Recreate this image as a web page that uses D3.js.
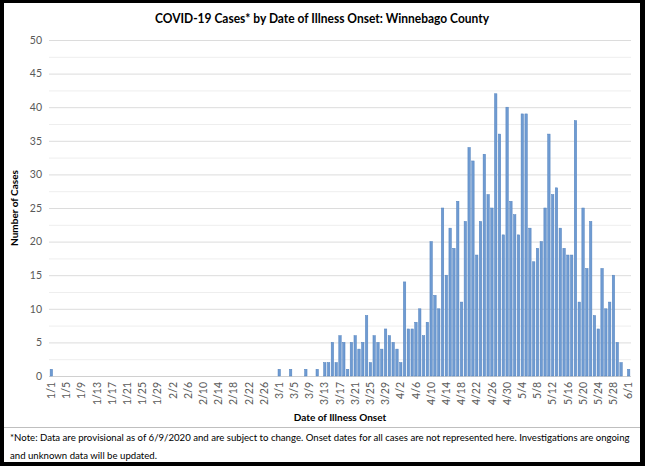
<!DOCTYPE html>
<html><head><meta charset="utf-8">
<script src="https://cdn.jsdelivr.net/npm/d3@7"></script>
<style>body{margin:0;background:#fff;} svg{display:block;font-family:Lato,"Open Sans",sans-serif;}</style>
</head><body><svg id="c" width="645" height="466"></svg>
<script>
const title = "COVID-19 Cases* by Date of Illness Onset: Winnebago County";
const yTitle = "Number of Cases";
const xTitle = "Date of Illness Onset";
const noteLines = [
  "*Note: Data are provisional as of 6/9/2020 and are subject to change. Onset dates for all cases are not represented here. Investigations are ongoing",
  "and unknown data will be updated."
];
const categories = d3.timeDay.range(new Date(2020,0,1), new Date(2020,5,2)).map(d3.timeFormat("%-m/%-d"));
// January (31)
const casesJan = [1,0,0,0,0,0,0,0,0,0,0,0,0,0,0,0,0,0,0,0,0,0,0,0,0,0,0,0,0,0,0];
// February (29)
const casesFeb = [0,0,0,0,0,0,0,0,0,0,0,0,0,0,0,0,0,0,0,0,0,0,0,0,0,0,0,0,0];
// March (31)
const casesMar = [1,0,0,1,0,0,0,1,0,0,1,0,2,2,5,2,6,5,1,5,6,4,5,9,2,6,5,4,7,6,5];
// April (30)
const casesApr = [4,2,14,7,7,8,10,6,8,20,12,10,25,15,22,19,26,11,23,34,32,18,23,33,27,25,42,36,21,40];
// May (31)
const casesMay = [26,24,21,39,39,22,17,19,20,25,36,27,28,22,19,18,18,38,11,25,16,23,9,7,16,10,11,15,5,2,0];
// June (1)
const casesJun = [1];
const cases = [].concat(casesJan, casesFeb, casesMar, casesApr, casesMay, casesJun);
const yTicks = [0,5,10,15,20,25,30,35,40,45,50];
const yMinorTicks = [2.5,7.5,12.5,17.5,22.5,27.5,32.5,37.5,42.5,47.5];
const tickLabels = categories.filter((d,i) => i % 4 === 0);

const svg = d3.select("#c");
const W = 645, H = 466;
const L = 49, R = 631, T = 40, B = 376;

const x = d3.scaleBand().domain(categories).range([L, R]).paddingInner(0.36).paddingOuter(0.3);
const y = d3.scaleLinear().domain([0, 50]).range([B, T]);

// minor gridlines
svg.append("g").selectAll("line").data(yMinorTicks).join("line")
  .attr("x1", L).attr("x2", R).attr("y1", d => y(d)+0.5).attr("y2", d => y(d)+0.5)
  .attr("stroke", "#eeeeee").attr("stroke-width", 1);
// major gridlines
svg.append("g").selectAll("line").data(yTicks).join("line")
  .attr("x1", L).attr("x2", R).attr("y1", d => y(d)+0.5).attr("y2", d => y(d)+0.5)
  .attr("stroke", d => d === 0 ? "#d0d0d0" : "#dcdcdc").attr("stroke-width", 1);

// y axis labels
const yAxis = d3.axisLeft(y).tickValues(yTicks).tickSize(0).tickPadding(0);
const gy = svg.append("g").attr("transform", `translate(${L-7},0)`).call(yAxis);
gy.select(".domain").remove();
gy.selectAll("text").attr("font-size", 10.5).attr("fill", "#595959").attr("font-family", "Lato,sans-serif");

// bars
svg.append("g").selectAll("rect").data(cases.map((v,i)=>({c:categories[i], v}))).join("rect")
  .attr("x", d => x(d.c)).attr("width", x.bandwidth())
  .attr("y", d => y(d.v)).attr("height", d => y(0) - y(d.v))
  .attr("fill", "#6f9bd2").attr("stroke", "#5282be").attr("stroke-width", 0.5);

// x axis labels
const xAxis = d3.axisBottom(x).tickValues(tickLabels).tickSize(0).tickPadding(0);
const gx = svg.append("g").attr("transform", `translate(0,${B})`).call(xAxis);
gx.select(".domain").remove();
gx.selectAll("text")
  .attr("font-size", 10.5).attr("fill", "#595959").attr("font-family", "Lato,sans-serif")
  .attr("transform", "rotate(-90)").attr("text-anchor", "end")
  .attr("x", -6).attr("y", 0).attr("dy", "0.35em");

// titles
svg.append("text").attr("x", 322).attr("y", 23).attr("text-anchor", "middle")
  .attr("font-size", 13).attr("font-weight", "bold").attr("fill", "#000")
  .attr("textLength", 334).attr("lengthAdjust", "spacingAndGlyphs").text(title);
svg.append("text").attr("transform", `translate(18,${(T+B)/2}) rotate(-90)`).attr("text-anchor", "middle")
  .attr("font-size", 10).attr("font-weight", "bold").attr("fill", "#000").text(yTitle);
svg.append("text").attr("x", (L+R)/2).attr("y", 421).attr("text-anchor", "middle")
  .attr("font-size", 10).attr("font-weight", "bold").attr("fill", "#000").text(xTitle);

// separator
svg.append("line").attr("x1", 4).attr("x2", 640).attr("y1", 427.5).attr("y2", 427.5)
  .attr("stroke", "#bfbfbf").attr("stroke-width", 1);

// note: fit the long first line naturally into the available width
const note1 = svg.append("text").attr("x", 10).attr("y", 441).attr("font-size", 10.2).attr("fill", "#000")
  .text(noteLines[0]);
const targetW = 620;
let len = note1.node().getComputedTextLength();
let fs = 10.2;
if (len > targetW) {
  fs = Math.max(9.4, 10.2 * targetW / len);
  note1.attr("font-size", fs);
  len = note1.node().getComputedTextLength();
  if (len > targetW) {
    const ls = (targetW - len) / noteLines[0].length;
    note1.attr("letter-spacing", ls.toFixed(3) + "px");
  }
}
svg.append("text").attr("x", 10).attr("y", 459).attr("font-size", fs).attr("fill", "#000")
  .text(noteLines[1]);

// outer black frame
svg.append("rect").attr("x", 0).attr("y", 0).attr("width", W).attr("height", 3).attr("fill", "#000");
svg.append("rect").attr("x", 0).attr("y", 0).attr("width", 4).attr("height", H).attr("fill", "#000");
svg.append("rect").attr("x", 640).attr("y", 0).attr("width", 5).attr("height", H).attr("fill", "#000");
svg.append("rect").attr("x", 0).attr("y", 462).attr("width", W).attr("height", 4).attr("fill", "#000");
</script></body></html>
